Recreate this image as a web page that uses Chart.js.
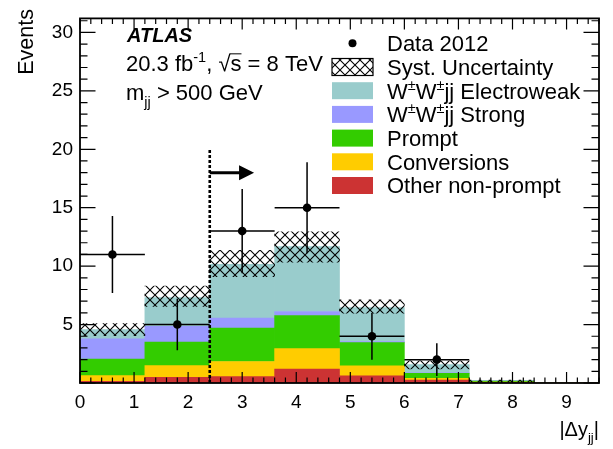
<!DOCTYPE html>
<html><head><meta charset="utf-8">
<script src="https://cdn.jsdelivr.net/npm/chart.js@4.4.1/dist/chart.umd.min.js"></script>
<style>html,body{margin:0;padding:0;background:#fff;}canvas{display:block;}</style>
</head><body>
<canvas id="c" width="613" height="449"></canvas>
<script>
// ---------------- data ----------------
const binEdges = [0, 1.2, 2.4, 3.6, 4.8, 6.0, 7.2, 8.4, 9.6];
const xTickLabels = ['0','1','2','3','4','5','6','7','8','9'];
const yTickLabels = ['', '5', '10', '15', '20', '25', '30'];
const dataCounts = [11, 5, 13, 15, 4, 2, null, null];
const dataErrors = [3.3, 2.2, 3.6, 3.9, 2.0, 1.4, null, null];
const otherNonPrompt = [0.15, 0.49, 0.55, 1.20, 0.62, 0.25, 0.04, 0];
const conversions    = [0.48, 0.99, 1.29, 1.74, 0.85, 0.16, 0.03, 0];
const prompt         = [1.41, 2.02, 2.86, 2.82, 1.98, 0.42, 0.10, 0];
const wwStrong       = [1.74, 1.36, 0.86, 0.36, 0.10, 0.05, 0.01, 0];
const wwElectroweak  = [0.80, 2.44, 4.60, 5.55, 2.91, 0.69, 0.02, 0];
const systLow        = [4.05, 6.55, 9.10, 10.35, 5.98, 1.20, 0.12, null];
const systHigh       = [5.08, 8.30, 11.35, 12.94, 7.11, 1.90, 0.26, null];
const cutValue = 2.4, cutLineTop = 20.0, arrowY = 18.0, arrowEnd = 3.22;
const legendLabels = ['Data 2012', 'Syst. Uncertainty', 'W±W±jj Electroweak', 'W±W±jj Strong', 'Prompt', 'Conversions', 'Other non-prompt'];

// ---------------- styles ----------------
const FONT = '"Liberation Sans", Arial, Helvetica, sans-serif';
const C_EW = '#99cccc', C_STR = '#9999ff', C_PR = '#33cc00', C_CONV = '#ffcc00', C_OTH = '#cc3333';

function makeHatch() {
  const t = document.createElement('canvas');
  t.width = 10; t.height = 10;
  const g = t.getContext('2d');
  g.strokeStyle = '#000'; g.lineWidth = 1.1;
  g.beginPath();
  g.moveTo(-1, -1); g.lineTo(11, 11);
  g.moveTo(11, -1); g.lineTo(-1, 11);
  g.stroke();
  return g.createPattern(t, 'repeat');
}
const hatch = makeHatch();

const binLabels = binEdges.slice(0, -1).map((e, i) => e + '-' + binEdges[i + 1]);
const binCenters = binEdges.slice(0, -1).map((e, i) => (e + binEdges[i + 1]) / 2);

function drawRich(ctx, segs, x, y, size, opt) {
  opt = opt || {};
  const pre = opt.prefix || '';
  const parts = segs.map(s => {
    const sz = (s.sup || s.sub) ? size * 0.66 : size;
    ctx.font = pre + sz + 'px ' + FONT;
    return {s, sz, w: ctx.measureText(s.t).width};
  });
  const total = parts.reduce((a, p) => a + p.w, 0);
  let cx = opt.align === 'right' ? x - total : x;
  ctx.textAlign = 'left'; ctx.textBaseline = 'alphabetic';
  for (const p of parts) {
    ctx.font = pre + p.sz + 'px ' + FONT;
    const dy = p.s.sup ? -size * 0.4 : (p.s.sub ? size * 0.3 : 0);
    ctx.fillText(p.s.t, cx, y + dy);
    if (p.s.over) {
      ctx.save(); ctx.lineWidth = 1; ctx.strokeStyle = ctx.fillStyle;
      ctx.beginPath(); ctx.moveTo(cx - 1, y - size * 0.78); ctx.lineTo(cx + p.w, y - size * 0.78); ctx.stroke();
      ctx.restore();
    }
    cx += p.w;
  }
}
function richFromLabel(lbl) {
  const segs = [];
  for (const ch of lbl) {
    if (ch === '±') segs.push({t: '±', sup: true});
    else if (segs.length && !segs[segs.length - 1].sup) segs[segs.length - 1].t += ch;
    else segs.push({t: ch});
  }
  return segs;
}

const decor = {
  id: 'decor',
  afterDatasetsDraw(chart) {
    const ctx = chart.ctx, X = chart.scales.x, Y = chart.scales.y;
    ctx.save();
    ctx.strokeStyle = '#000'; ctx.lineWidth = 1.5;
    dataCounts.forEach((v, i) => {
      if (v === null) return;
      const yc = Y.getPixelForValue(v);
      ctx.beginPath();
      ctx.moveTo(X.getPixelForValue(binEdges[i]), yc);
      ctx.lineTo(X.getPixelForValue(binEdges[i + 1]), yc);
      ctx.moveTo(X.getPixelForValue(binCenters[i]), Y.getPixelForValue(v - dataErrors[i]));
      ctx.lineTo(X.getPixelForValue(binCenters[i]), Y.getPixelForValue(v + dataErrors[i]));
      ctx.stroke();
    });
    const cx = X.getPixelForValue(cutValue);
    ctx.lineWidth = 2.6; ctx.setLineDash([3, 2]);
    ctx.beginPath(); ctx.moveTo(cx, Y.getPixelForValue(0)); ctx.lineTo(cx, Y.getPixelForValue(cutLineTop)); ctx.stroke();
    ctx.setLineDash([]);
    const ay = Y.getPixelForValue(arrowY), ax2 = X.getPixelForValue(arrowEnd);
    ctx.lineWidth = 3;
    ctx.beginPath(); ctx.moveTo(cx, ay); ctx.lineTo(ax2 - 12, ay); ctx.stroke();
    ctx.fillStyle = '#000';
    ctx.beginPath(); ctx.moveTo(ax2, ay); ctx.lineTo(ax2 - 15, ay - 7.5); ctx.lineTo(ax2 - 15, ay + 7.5); ctx.closePath(); ctx.fill();
    ctx.restore();
  },
  afterDraw(chart) {
    const ctx = chart.ctx, X = chart.scales.x, Y = chart.scales.y, a = chart.chartArea;
    ctx.save();
    ctx.strokeStyle = '#000'; ctx.fillStyle = '#000';
    ctx.lineWidth = 1.2;
    ctx.beginPath();
    for (let i = 0; i <= 48; i++) {
      const x = X.getPixelForValue(i * 0.2), L = (i % 5 === 0) ? 11 : 5.5;
      ctx.moveTo(x, a.bottom); ctx.lineTo(x, a.bottom - L);
      ctx.moveTo(x, a.top); ctx.lineTo(x, a.top + L);
    }
    for (let i = 0; i <= 31; i++) {
      const y = Y.getPixelForValue(i), L = (i % 5 === 0) ? 15.5 : 7.5;
      ctx.moveTo(a.left, y); ctx.lineTo(a.left + L, y);
      ctx.moveTo(a.right, y); ctx.lineTo(a.right - L, y);
    }
    ctx.stroke();
    ctx.lineWidth = 1.8;
    ctx.strokeRect(a.left, a.top, a.right - a.left, a.bottom - a.top);

    ctx.save();
    ctx.translate(33, 9); ctx.rotate(-Math.PI / 2);
    ctx.font = '21.5px ' + FONT; ctx.textAlign = 'right'; ctx.textBaseline = 'alphabetic';
    ctx.fillText('Events', 0, 0);
    ctx.restore();
    drawRich(ctx, [{t: '|Δy'}, {t: 'jj', sub: true}, {t: '|'}], 599, 436, 20, {align: 'right'});

    ctx.font = 'italic bold 20px ' + FONT; ctx.textAlign = 'left'; ctx.textBaseline = 'alphabetic';
    ctx.fillText('ATLAS', 127, 42);
    drawRich(ctx, [{t: '20.3 fb'}, {t: '-1', sup: true}, {t: ', √'}, {t: 's', over: true}, {t: ' = 8 TeV'}], 126, 71, 22);
    drawRich(ctx, [{t: 'm'}, {t: 'jj', sub: true}, {t: ' > 500 GeV'}], 126, 100, 22);

    const fills = [null, hatch, C_EW, C_STR, C_PR, C_CONV, C_OTH];
    const bx = 332, bw = 41, bh = 17, tx = 387;
    legendLabels.forEach((lbl, i) => {
      const yc = 43.3 + i * 23.7;
      if (i === 0) {
        ctx.beginPath(); ctx.arc(bx + bw / 2, yc, 4, 0, Math.PI * 2); ctx.fill();
      } else {
        ctx.fillStyle = fills[i];
        ctx.fillRect(bx, yc - bh / 2, bw, bh);
        if (i === 1) { ctx.lineWidth = 1.2; ctx.strokeRect(bx, yc - bh / 2, bw, bh); }
        ctx.fillStyle = '#000';
      }
      drawRich(ctx, richFromLabel(lbl), tx, yc + 7.8, 22);
    });
    ctx.restore();
  }
};

const mcDs = (label, data, color) => ({
  type: 'bar', label, data, backgroundColor: color, borderWidth: 0,
  xAxisID: 'xb', yAxisID: 'y', stack: 'mc', grouped: false,
  categoryPercentage: 1.0, barPercentage: 1.0
});

new Chart(document.getElementById('c'), {
  type: 'bar',
  data: {
    labels: binLabels,
    datasets: [
      mcDs('Other non-prompt', otherNonPrompt, C_OTH),
      mcDs('Conversions', conversions, C_CONV),
      mcDs('Prompt', prompt, C_PR),
      mcDs('W±W±jj Strong', wwStrong, C_STR),
      mcDs('W±W±jj Electroweak', wwElectroweak, C_EW),
      {
        type: 'bar', label: 'Syst. Uncertainty', order: -1,
        data: systLow.map((lo, i) => lo === null ? null : [lo, systHigh[i]]),
        backgroundColor: hatch, borderWidth: 0, grouped: false,
        xAxisID: 'xh', yAxisID: 'y', stack: 'unc',
        categoryPercentage: 1.0, barPercentage: 1.0
      },
      {
        type: 'scatter', label: 'Data 2012', order: -2,
        data: dataCounts.map((v, i) => ({x: binCenters[i], y: v})).filter(p => p.y !== null),
        xAxisID: 'x', yAxisID: 'y',
        pointRadius: 4.3, pointHoverRadius: 4.3, backgroundColor: '#000', borderColor: '#000', borderWidth: 0,
        showLine: false
      }
    ]
  },
  options: {
    responsive: false, animation: false, devicePixelRatio: 1,
    layout: {padding: {top: 13, right: 14, left: 0, bottom: 0}},
    plugins: {legend: {display: false}, tooltip: {enabled: false}},
    scales: {
      xb: {type: 'category', display: false, offset: true, labels: binLabels},
      xh: {type: 'category', display: false, offset: true, labels: binLabels},
      x: {
        type: 'linear', position: 'bottom', offset: false,
        min: binEdges[0], max: binEdges[binEdges.length - 1],
        grid: {display: false, drawTicks: false, offset: false}, border: {display: false},
        ticks: {
          stepSize: 1, includeBounds: false, autoSkip: false, maxRotation: 0, padding: 8,
          color: '#000', font: {family: FONT, size: 19},
          callback: (v) => Number.isInteger(v) ? xTickLabels[v] : ''
        },
        afterFit: s => { s.height = 66; }
      },
      y: {
        type: 'linear', stacked: true, min: 0, max: 31.2,
        grid: {display: false, drawTicks: false}, border: {display: false},
        ticks: {
          stepSize: 5, includeBounds: false, padding: 7,
          color: '#000', font: {family: FONT, size: 19},
          callback: (v) => (v % 5 === 0) ? yTickLabels[v / 5] : ''
        },
        afterFit: s => { s.width = 80; }
      }
    }
  },
  plugins: [decor]
});
</script>
</body></html>
